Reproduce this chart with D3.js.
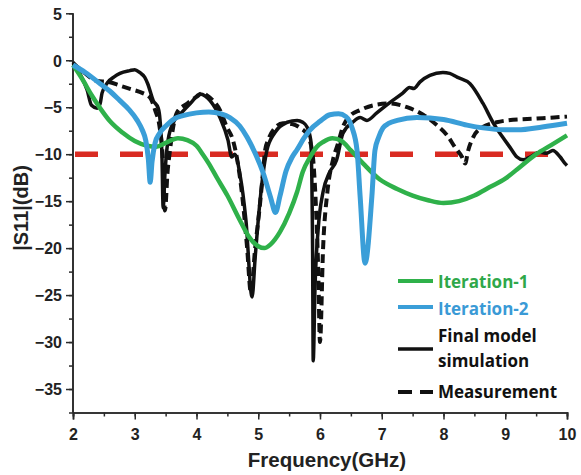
<!DOCTYPE html>
<html>
<head>
<meta charset="utf-8">
<script src="https://cdn.jsdelivr.net/npm/d3@7"></script>
<style>
  html, body { margin: 0; padding: 0; background: #fff; }
  svg { display: block; }
</style>
</head>
<body>
<svg id="chart" width="581" height="475"></svg>
<script>
// Return loss |S11| (dB) versus frequency (GHz) for the antenna design steps.
const xTicks = [2, 3, 4, 5, 6, 7, 8, 9, 10];
const yTicks = [5, 0, -5, -10, -15, -20, -25, -30, -35];
const threshold = -10;

const iteration1Freq = [2.0, 2.15, 2.3, 2.45, 2.6, 2.8, 3.0, 3.2, 3.35, 3.5, 3.7, 3.85, 4.0, 4.1, 4.2, 4.33, 4.5, 4.7, 4.85, 5.0, 5.1, 5.2, 5.35, 5.5, 5.63, 5.72, 5.84, 5.95, 6.05, 6.2, 6.35, 6.5, 6.7, 6.97, 7.25, 7.5, 7.75, 8.0, 8.25, 8.5, 8.75, 9.0, 9.25, 9.5, 9.75, 10.0];
const iteration1dB   = [-0.5, -2.0, -3.7, -5.2, -6.5, -7.7, -8.6, -9.1, -9.2, -8.8, -8.3, -8.5, -9.1, -10.0, -11.0, -12.5, -14.4, -17.0, -18.8, -19.8, -20.0, -19.6, -18.3, -16.3, -14.0, -11.9, -10.3, -9.2, -8.7, -8.3, -8.6, -9.6, -11.0, -12.7, -13.7, -14.4, -14.9, -15.2, -15.0, -14.4, -13.5, -12.6, -11.3, -10.0, -9.0, -8.0];

const iteration2Freq = [2.0, 2.2, 2.44, 2.6, 2.76, 2.9, 3.04, 3.12, 3.18, 3.22, 3.25, 3.28, 3.33, 3.4, 3.52, 3.65, 3.78, 4.0, 4.2, 4.4, 4.54, 4.7, 4.82, 4.95, 5.08, 5.2, 5.28, 5.35, 5.45, 5.55, 5.63, 5.74, 5.84, 6.0, 6.16, 6.3, 6.42, 6.52, 6.6, 6.65, 6.73, 6.84, 6.89, 6.95, 7.02, 7.12, 7.25, 7.57, 8.0, 8.38, 8.64, 9.0, 9.2, 9.6, 10.0];
const iteration2dB   = [-0.5, -1.3, -2.5, -3.3, -4.3, -5.2, -6.4, -7.4, -8.6, -10.5, -13.0, -10.8, -8.8, -7.8, -6.9, -6.2, -5.9, -5.6, -5.5, -5.7, -6.1, -7.0, -8.2, -9.9, -12.0, -14.6, -16.2, -14.5, -11.8, -10.3, -9.5, -8.3, -7.4, -6.5, -5.8, -5.7, -6.0, -7.2, -9.6, -14.5, -21.6, -14.5, -9.6, -8.2, -7.2, -6.7, -6.4, -6.1, -6.3, -6.9, -7.2, -7.4, -7.4, -7.1, -6.7];

const simulationFreq = [2.0, 2.11, 2.23, 2.3, 2.39, 2.44, 2.47, 2.57, 2.66, 2.76, 2.92, 3.0, 3.08, 3.16, 3.21, 3.3, 3.38, 3.41, 3.44, 3.46, 3.49, 3.52, 3.54, 3.62, 3.77, 3.9, 4.06, 4.14, 4.22, 4.38, 4.51, 4.57, 4.62, 4.7, 4.8, 4.9, 4.95, 5.0, 5.07, 5.14, 5.27, 5.47, 5.63, 5.72, 5.79, 5.85, 5.88, 5.89, 5.92, 5.97, 6.05, 6.15, 6.27, 6.37, 6.53, 6.65, 6.76, 6.92, 7.13, 7.34, 7.45, 7.52, 7.62, 7.78, 7.99, 8.1, 8.22, 8.43, 8.64, 8.8, 8.96, 9.08, 9.19, 9.29, 9.4, 9.56, 9.67, 9.77, 9.89, 9.97, 10.0];
const simulationdB   = [-0.2, -1.4, -3.2, -4.8, -5.1, -4.6, -3.5, -2.3, -1.8, -1.4, -1.1, -1.0, -1.3, -1.8, -2.5, -4.3, -5.1, -6.4, -10.0, -15.7, -12.0, -9.5, -8.5, -6.7, -5.5, -4.6, -3.6, -3.8, -4.3, -6.1, -8.5, -10.3, -10.0, -12.0, -17.0, -25.2, -21.0, -17.0, -12.5, -9.6, -7.7, -6.6, -6.4, -6.6, -7.1, -8.5, -20.0, -32.0, -24.0, -18.0, -14.0, -12.0, -10.6, -7.8, -6.6, -6.1, -6.4, -5.6, -4.5, -3.5, -2.9, -3.0, -2.3, -1.6, -1.3, -1.4, -1.8, -2.5, -4.6, -6.6, -8.2, -9.3, -10.3, -10.6, -10.3, -9.8, -9.9, -9.6, -10.3, -11.0, -11.2];

const measurementFreq = [2.0, 2.16, 2.39, 2.57, 2.76, 2.95, 3.13, 3.25, 3.33, 3.4, 3.45, 3.49, 3.53, 3.57, 3.62, 3.68, 3.85, 4.0, 4.1, 4.18, 4.27, 4.38, 4.49, 4.59, 4.66, 4.75, 4.82, 4.88, 4.95, 5.03, 5.08, 5.11, 5.16, 5.27, 5.4, 5.55, 5.68, 5.8, 5.88, 5.93, 5.97, 6.0, 6.05, 6.12, 6.21, 6.29, 6.37, 6.49, 6.65, 6.86, 7.13, 7.41, 7.67, 7.89, 8.06, 8.19, 8.3, 8.35, 8.4, 8.48, 8.64, 8.86, 9.03, 9.51, 10.0];
const measurementdB   = [-0.3, -1.2, -2.2, -2.3, -2.7, -3.1, -3.5, -4.0, -5.3, -7.0, -10.0, -16.0, -12.0, -9.6, -7.2, -5.6, -4.6, -3.9, -3.5, -3.8, -4.3, -5.3, -7.1, -8.5, -10.6, -15.0, -20.0, -24.7, -20.0, -15.2, -11.7, -9.6, -8.5, -7.2, -6.7, -6.8, -7.2, -8.0, -10.0, -15.0, -22.0, -30.0, -20.0, -14.0, -10.6, -8.9, -7.1, -5.9, -5.3, -4.8, -4.6, -5.0, -5.8, -6.9, -8.0, -9.3, -10.3, -11.0, -9.6, -8.2, -7.1, -6.6, -6.4, -6.2, -6.0];

const legendLabels = ["Iteration-1", "Iteration-2", "Final model", "simulation", "Measurement"];

const svg = d3.select("#chart");
const plotLeft = 73, plotRight = 567, plotTop = 13.3, plotBottom = 412.5;

const x = d3.scaleLinear().domain([2, 10]).range([plotLeft, plotRight]);
const y = d3.scaleLinear().domain([-37.5, 5]).range([plotBottom, plotTop]);

const tickFont = "'Liberation Sans', Arial, sans-serif";
const legendFont = "'Open Sans', 'Noto Sans', sans-serif";

// Axes: major ticks every unit / 5 dB, minor ticks halfway between
const axisColor = "#2a2a2a";
const gx = svg.append("g").attr("transform", `translate(0,${plotBottom})`)
  .call(d3.axisBottom(x).tickValues(d3.range(2, 10.01, 0.5)).tickSize(4).tickFormat(""));
const gxMajor = svg.append("g").attr("transform", `translate(0,${plotBottom})`)
  .call(d3.axisBottom(x).tickValues(xTicks).tickSize(7).tickPadding(9).tickFormat(d3.format("d")));
const gy = svg.append("g").attr("transform", `translate(${plotLeft},0)`)
  .call(d3.axisLeft(y).tickValues(d3.range(-37.5, 5.01, 2.5)).tickSize(4).tickFormat(""));
const gyMajor = svg.append("g").attr("transform", `translate(${plotLeft},0)`)
  .call(d3.axisLeft(y).tickValues(yTicks).tickSize(7).tickPadding(4).tickFormat(d3.format("d")));

[gx, gxMajor, gy, gyMajor].forEach(g => {
  g.selectAll("path.domain").attr("stroke", axisColor).attr("stroke-width", 1.6);
  g.selectAll(".tick line").attr("stroke", axisColor).attr("stroke-width", 1.5);
  g.selectAll(".tick text")
    .attr("font-family", tickFont).attr("font-weight", "bold")
    .attr("font-size", 16).attr("fill", "#222");
});
gyMajor.selectAll(".tick text").attr("dy", "0.36em");
gy.select("path.domain").attr("d", `M0,${plotBottom}V${plotTop}`);
gyMajor.select("path.domain").attr("d", `M0,${plotBottom}V${plotTop}`);

// Axis titles
svg.append("text")
  .attr("x", 327).attr("y", 467)
  .attr("text-anchor", "middle")
  .attr("font-family", tickFont).attr("font-weight", "bold")
  .attr("font-size", 20.5).attr("fill", "#222")
  .text("Frequency(GHz)");

svg.append("text")
  .attr("transform", "translate(28,208) rotate(-90)")
  .attr("text-anchor", "middle")
  .attr("font-family", tickFont).attr("font-weight", "bold")
  .attr("font-size", 20).attr("fill", "#222")
  .text("|S11|(dB)");

// -10 dB reference line
svg.append("line")
  .attr("x1", x(2)).attr("x2", x(10))
  .attr("y1", y(threshold)).attr("y2", y(threshold))
  .attr("stroke", "#d92b22").attr("stroke-width", 5.5)
  .attr("stroke-dasharray", "23,22").attr("stroke-dashoffset", -2);

const line = d3.line()
  .x(d => x(d[0]))
  .y(d => y(d[1]))
  .curve(d3.curveMonotoneX);

const series = [
  { f: measurementFreq, v: measurementdB, color: "#111", width: 4, dash: "9,5" },
  { f: simulationFreq, v: simulationdB, color: "#111", width: 3.5, dash: null },
  { f: iteration1Freq, v: iteration1dB, color: "#2fb14a", width: 4.5, dash: null },
  { f: iteration2Freq, v: iteration2dB, color: "#3a9ed8", width: 5, dash: null }
];

series.forEach(s => {
  svg.append("path")
    .datum(d3.zip(s.f, s.v))
    .attr("fill", "none")
    .attr("stroke", s.color)
    .attr("stroke-width", s.width)
    .attr("stroke-linejoin", "round")
    .attr("stroke-dasharray", s.dash)
    .attr("d", line);
});

// Legend
const legend = svg.append("g");
const legendRows = [
  { y: 281, color: "#2fb14a", width: 4, dash: null },
  { y: 307, color: "#3a9ed8", width: 4, dash: null },
  { y: 349, color: "#111", width: 3.5, dash: null },
  { y: 392, color: "#111", width: 4, dash: "14,8" }
];
legendRows.forEach(r => {
  legend.append("line")
    .attr("x1", 398).attr("x2", 433)
    .attr("y1", r.y).attr("y2", r.y)
    .attr("stroke", r.color).attr("stroke-width", r.width)
    .attr("stroke-dasharray", r.dash);
});
const legendText = [
  { t: legendLabels[0], y: 288, color: "#2fa84a" },
  { t: legendLabels[1], y: 315, color: "#3a9ad6" },
  { t: legendLabels[2], y: 342, color: "#111" },
  { t: legendLabels[3], y: 367, color: "#111" },
  { t: legendLabels[4], y: 398, color: "#111" }
];
legendText.forEach(d => {
  legend.append("text")
    .attr("x", 438).attr("y", d.y)
    .attr("font-family", legendFont).attr("font-weight", "bold")
    .attr("font-size", 17).attr("fill", d.color)
    .text(d.t);
});
</script>
</body>
</html>
